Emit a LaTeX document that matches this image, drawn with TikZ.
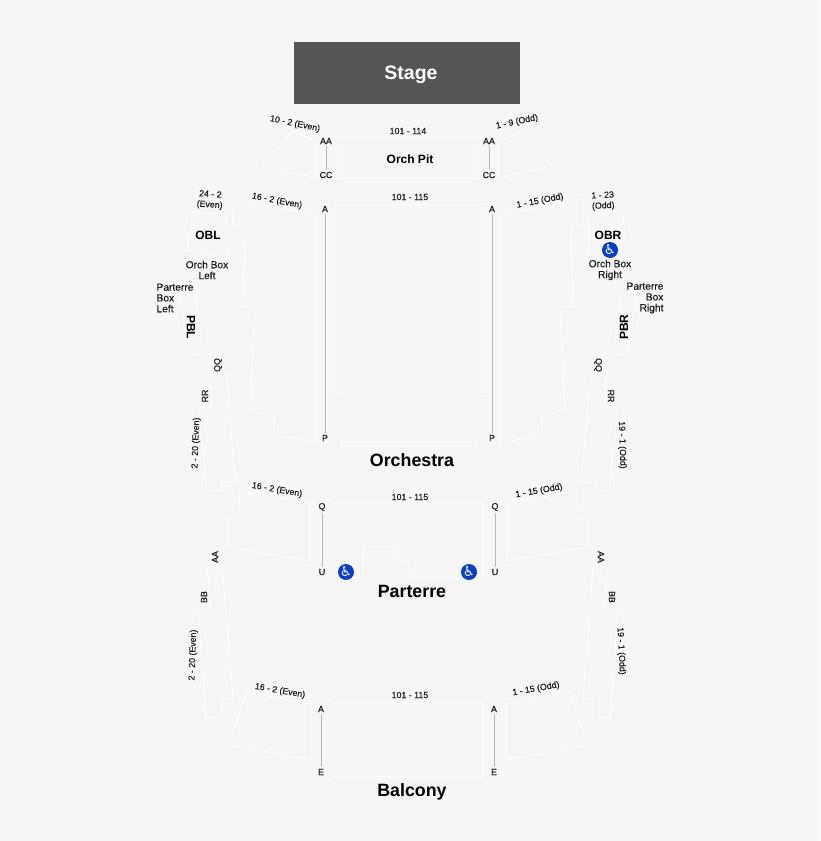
\documentclass[tikz,border=0pt]{standalone}
\usepackage{fontspec}
\setmainfont{Liberation Sans}
\newfontfamily\iconfont{DejaVu Sans}
\newfontfamily\labelfont[FakeBold=0.35]{Liberation Sans}
\definecolor{pagegray}{HTML}{F6F6F6}
\definecolor{blockline}{HTML}{FCFCFC}
\definecolor{stagegray}{HTML}{555555}
\definecolor{accessblue}{HTML}{0B3FC4}
\definecolor{labelink}{HTML}{1C1C1C}
\tikzset{
  seatblock/.style={draw=blockline, line width=1pt, line join=miter},
  aisle/.style={draw=black!28, line width=0.9pt},
  seatlabel/.style={text=labelink, inner sep=1.5pt, align=center, font=\labelfont\fontsize{8.8}{10.4}\selectfont},
  boxlabel/.style={text=labelink, inner sep=1pt, align=center, font=\labelfont\fontsize{10.2}{10.8}\selectfont},
  blockname/.style={text=black, inner sep=1pt, font=\fontsize{12}{13}\selectfont\bfseries},
  sectionname/.style={text=black, inner sep=1pt, font=\fontsize{17.8}{20}\selectfont\bfseries},
  access/.style={circle, fill=accessblue, text=white, inner sep=0pt, minimum size=16pt, font=\iconfont\fontsize{13.5}{13.5}\selectfont}
}

\begin{document}
\begin{tikzpicture}[x=1pt, y=-1pt]
  \useasboundingbox[fill=pagegray] (0, 0) rectangle (820, 841);

  % Stage
  \node[fill=stagegray, minimum width=226pt, minimum height=62pt, inner sep=0pt] (stage) at (407, 73) {};
  \node[text=white, inner sep=1pt, font=\fontsize{19.5}{22}\selectfont\bfseries] (stagename) at (411, 75) {Stage};

  % Orch Pit
  \draw[seatblock] (293, 131) -- (317, 142) -- (317, 178) -- (262, 166) -- cycle;
  \draw[seatblock] (337, 137) -- (478, 137) -- (478, 178) -- (337, 178) -- cycle;
  \draw[seatblock] (520, 131) -- (498, 142) -- (498, 178) -- (552, 166) -- cycle;
  \node[seatlabel, rotate=-12] (pitleftseats) at (295, 124) {10 - 2 (Even)};
  \node[seatlabel] (pitmidseats) at (408, 131) {101 - 114};
  \node[seatlabel, rotate=12] (pitrightseats) at (517, 122) {1 - 9 (Odd)};
  \node[blockname] (pitname) at (410, 159) {Orch Pit};
  \node[seatlabel] (pitAAleft) at (326, 141) {AA};
  \node[seatlabel] (pitCCleft) at (326, 175) {CC};
  \node[seatlabel] (pitAAright) at (489, 141) {AA};
  \node[seatlabel] (pitCCright) at (489, 175) {CC};
  \draw[aisle] (pitAAleft) -- (pitCCleft);
  \draw[aisle] (pitAAright) -- (pitCCright);

  % Orchestra
  \draw[seatblock] (232, 199) -- (317, 215) -- (317, 442) -- (273, 435) -- (275, 417) -- (250, 410) -- (255, 308) -- (242, 306) -- (246, 229) -- (233, 226) -- cycle;
  \draw[seatblock] (334, 204) -- (486, 204) -- (486, 395) -- (477, 395) -- (477, 445) -- (341, 445) -- (341, 393) -- (334, 393) -- cycle;
  \draw[seatblock] (499, 215) -- (583, 199) -- (583, 225) -- (571, 229) -- (573, 306) -- (560, 308) -- (565, 410) -- (541, 417) -- (543, 435) -- (499, 443) -- cycle;
  \node[seatlabel, rotate=-11] (orchleftseats) at (277, 201) {16 - 2 (Even)};
  \node[seatlabel] (orchmidseats) at (410, 197) {101 - 115};
  \node[seatlabel, rotate=11] (orchrightseats) at (540, 201) {1 - 15 (Odd)};
  \node[seatlabel] (orchAleft) at (325, 209) {A};
  \node[seatlabel] (orchPleft) at (325, 438) {P};
  \node[seatlabel] (orchAright) at (492, 209) {A};
  \node[seatlabel] (orchPright) at (492, 438) {P};
  \draw[aisle] (orchAleft) -- (orchPleft);
  \draw[aisle] (orchAright) -- (orchPright);
  \node[sectionname] (orchname) at (412, 460) {Orchestra};

  % Boxes
  \draw[seatblock] (193, 212) -- (226, 215) -- (227, 258) -- (187, 250) -- cycle;
  \draw[seatblock] (588, 215) -- (622, 210) -- (627, 250) -- (589, 258) -- cycle;
  \draw[seatblock] (181, 297) -- (195, 297) -- (203, 354) -- (187, 354) -- cycle;
  \draw[seatblock] (620, 297) -- (636, 297) -- (628, 354) -- (613, 354) -- cycle;
  \node[seatlabel, rotate=-4] (oblseats) at (210, 200) {24 - 2\\(Even)};
  \node[seatlabel, rotate=3] (obrseats) at (603, 201) {1 - 23\\(Odd)};
  \node[blockname] (oblname) at (208, 235) {OBL};
  \node[blockname] (obrname) at (608, 235) {OBR};
  \node[access] (obraccess) at (610, 250) {♿};
  \node[boxlabel] (oblcaption) at (207, 270) {Orch Box\\Left};
  \node[boxlabel] (obrcaption) at (610, 270) {Orch Box\\Right};
  \node[boxlabel, align=left] (pblcaption) at (175, 298) {Parterre\\Box\\Left};
  \node[boxlabel, align=right] (pbrcaption) at (645, 298) {Parterre\\Box\\Right};
  \node[blockname, rotate=-90] (pblname) at (191, 327) {PBL};
  \node[blockname, rotate=90] (pbrname) at (624, 327) {PBR};

  % Orchestra sides
  \draw[seatblock] (210, 374) -- (227, 374) -- (235, 482) -- (221, 483) -- (221, 491) -- (207, 491) -- (198, 407) -- (212, 407) -- cycle;
  \draw[seatblock] (591, 374) -- (606, 374) -- (605, 407) -- (618, 407) -- (609, 491) -- (596, 491) -- (596, 482) -- (581, 482) -- cycle;
  \node[seatlabel, rotate=90] (leftQQ) at (218, 365) {QQ};
  \node[seatlabel, rotate=90] (leftRR) at (205, 396) {RR};
  \node[seatlabel, rotate=88] (leftsideseats) at (196, 443) {2 - 20 (Even)};
  \node[seatlabel, rotate=-90] (rightQQ) at (598, 365) {QQ};
  \node[seatlabel, rotate=-90] (rightRR) at (611, 396) {RR};
  \node[seatlabel, rotate=-88] (rightsideseats) at (622, 445) {19 - 1 (Odd)};

  % Parterre
  \draw[seatblock] (240, 491) -- (310, 503) -- (310, 561) -- (228, 547) -- (228, 519) -- (238, 518) -- cycle;
  \draw[seatblock] (333, 503) -- (483, 503) -- (483, 577) -- (409, 577) -- (409, 561) -- (398, 561) -- (398, 547) -- (363, 547) -- (363, 577) -- (333, 577) -- cycle;
  \draw[seatblock] (507, 503) -- (577, 491) -- (578, 518) -- (588, 519) -- (588, 547) -- (507, 561) -- cycle;
  \node[seatlabel, rotate=-10] (parleftseats) at (277, 490) {16 - 2 (Even)};
  \node[seatlabel] (parmidseats) at (410, 497) {101 - 115};
  \node[seatlabel, rotate=10] (parrightseats) at (539, 491) {1 - 15 (Odd)};
  \node[seatlabel] (parQleft) at (322, 507) {Q};
  \node[seatlabel] (parUleft) at (322, 572) {U};
  \node[seatlabel] (parQright) at (495, 507) {Q};
  \node[seatlabel] (parUright) at (495, 572) {U};
  \draw[aisle] (parQleft) -- (parUleft);
  \draw[aisle] (parQright) -- (parUright);
  \node[access] (paraccessleft) at (346, 572) {♿};
  \node[access] (paraccessright) at (469, 572) {♿};
  \node[sectionname] (parname) at (412, 591) {Parterre};

  % Parterre sides
  \draw[seatblock] (207, 567) -- (222, 567) -- (233, 699) -- (222, 700) -- (222, 718) -- (206, 718) -- (198, 606) -- (211, 606) -- cycle;
  \draw[seatblock] (593, 567) -- (607, 567) -- (605, 606) -- (618, 606) -- (610, 718) -- (593, 718) -- (593, 699) -- (583, 699) -- cycle;
  \node[seatlabel, rotate=90] (leftAA) at (215, 557) {AA};
  \node[seatlabel, rotate=90] (leftBB) at (204, 597) {BB};
  \node[seatlabel, rotate=88] (leftlowerseats) at (193, 655) {2 - 20 (Even)};
  \node[seatlabel, rotate=-90] (rightAA) at (601, 557) {AA};
  \node[seatlabel, rotate=-90] (rightBB) at (612, 597) {BB};
  \node[seatlabel, rotate=-87] (rightlowerseats) at (621, 651) {19 - 1 (Odd)};

  % Balcony
  \draw[seatblock] (246, 692) -- (311, 704) -- (311, 760) -- (229, 745) -- cycle;
  \draw[seatblock] (333, 703) -- (483, 703) -- (483, 776) -- (333, 776) -- cycle;
  \draw[seatblock] (506, 704) -- (570, 691) -- (587, 745) -- (506, 760) -- cycle;
  \node[seatlabel, rotate=-10] (balleftseats) at (280, 691) {16 - 2 (Even)};
  \node[seatlabel] (balmidseats) at (410, 695) {101 - 115};
  \node[seatlabel, rotate=10] (balrightseats) at (536, 689) {1 - 15 (Odd)};
  \node[seatlabel] (balAleft) at (321, 709) {A};
  \node[seatlabel] (balEleft) at (321, 772) {E};
  \node[seatlabel] (balAright) at (494, 709) {A};
  \node[seatlabel] (balEright) at (494, 772) {E};
  \draw[aisle] (balAleft) -- (balEleft);
  \draw[aisle] (balAright) -- (balEright);
  \node[sectionname] (balname) at (412, 792) {Balcony};
\end{tikzpicture}
\end{document}
